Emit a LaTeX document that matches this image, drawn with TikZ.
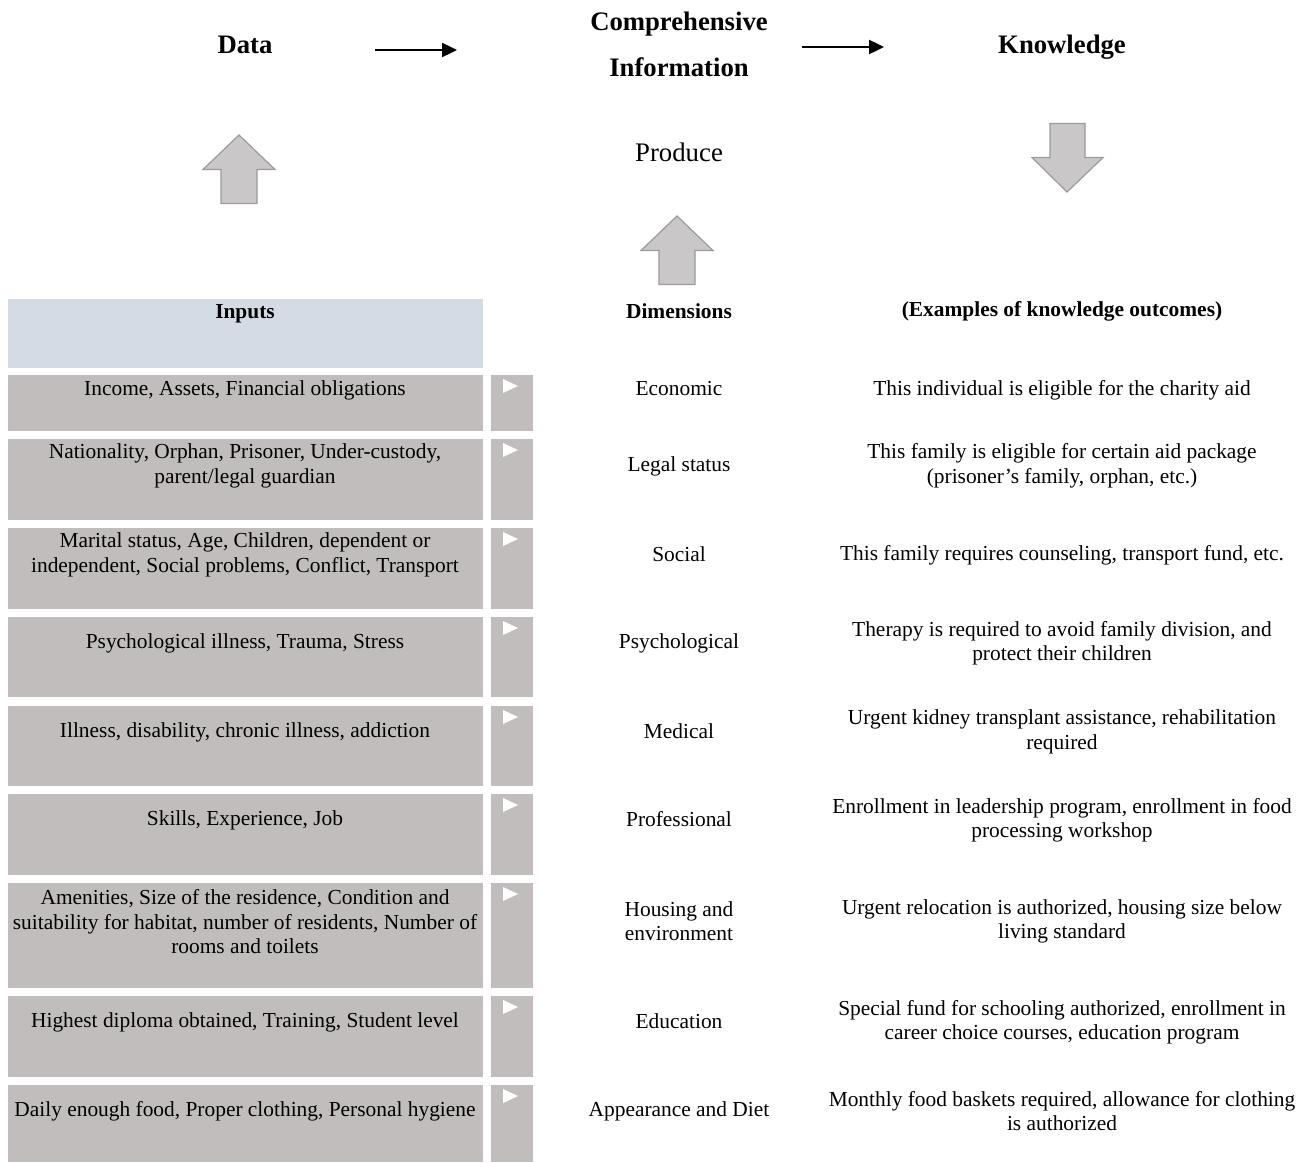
\documentclass[tikz,border=0pt]{standalone}
\usepackage{fontspec}
\setmainfont{Liberation Serif}
\usetikzlibrary{arrows.meta}
\definecolor{boxgray}{HTML}{C1BDBD}
\definecolor{headblue}{HTML}{D5DBE5}
\definecolor{arrfill}{HTML}{C9C7C7}
\definecolor{arrdraw}{HTML}{9C9A9A}
\begin{document}
\begin{tikzpicture}[x=1pt,y=-1pt,
  inbox/.style={fill=boxgray,draw=none},
  tri/.style={fill=white,draw=none},
  txt/.style={align=center,inner sep=0pt,font=\fontsize{21.4}{24.5}\selectfont},
  hdr/.style={align=center,inner sep=0pt,font=\fontsize{21.4}{24.5}\selectfont\bfseries},
  ttl/.style={align=center,inner sep=0pt,font=\fontsize{26.7}{46}\selectfont\bfseries},
  flow/.style={line width=2.4pt,-{Triangle[length=15pt,width=14pt]}},
  blockarr/.style={fill=arrfill,draw=arrdraw,line width=1.2pt,line join=miter}]
\useasboundingbox (0,0) rectangle (1311,1162);
% top titles
\node[ttl] (data) at (245,45) {Data};
\node[ttl] (info) at (679,44) {Comprehensive\\Information};
\node[ttl] (know) at (1062,47) {Knowledge};
\coordinate (a1s) at (375,50); \coordinate (a1e) at (457,50);
\coordinate (a2s) at (802,47); \coordinate (a2e) at (884,47);
\draw[flow] (a1s) -- (a1e);
\draw[flow] (a2s) -- (a2e);
\node[align=center,inner sep=0pt,font=\fontsize{26.8}{30}\selectfont] (produce) at (679,152) {Produce};
% block arrows
\draw[blockarr] (239,135) -- (275,169.5) -- (257,169.5) -- (257,203.5) -- (221,203.5) -- (221,169.5) -- (203,169.5) -- cycle;
\draw[blockarr] (677,216) -- (713,250.5) -- (695,250.5) -- (695,284.5) -- (659,284.5) -- (659,250.5) -- (641,250.5) -- cycle;
\draw[blockarr] (1067,192) -- (1103,157.5) -- (1085,157.5) -- (1085,123.5) -- (1050,123.5) -- (1050,157.5) -- (1032,157.5) -- cycle;
% header
\fill[headblue] (8,299) rectangle (483,368);
\node[hdr] (hin) at (245,314) {Inputs};
\node[hdr] (hdim) at (679,311.5) {Dimensions};
\node[hdr] (hknow) at (1062,311) {(Examples of knowledge outcomes)};
% rows: boxes
\foreach \t/\b in {375/431,439/520,528/609,617/697,706/786,794/875,883/988,996/1077,1085/1162}{
  \fill[inbox] (8,\t) rectangle (483,\b);
  \fill[inbox] (491,\t) rectangle (533,\b);
  \fill[tri] (503,\t+4) -- (518,\t+11) -- (503,\t+18) -- cycle;
}
% inputs text
\node[txt] (i1) at (245,390) {Income, Assets, Financial obligations};
\node[txt] (i2) at (245,466) {Nationality, Orphan, Prisoner, Under-custody,\\parent/legal guardian};
\node[txt] (i3) at (245,555) {Marital status, Age, Children, dependent or\\independent, Social problems, Conflict, Transport};
\node[txt] (i4) at (245,643) {Psychological illness, Trauma, Stress};
\node[txt] (i5) at (245,732) {Illness, disability, chronic illness, addiction};
\node[txt] (i6) at (245,820) {Skills, Experience, Job};
\node[txt] (i7) at (245,922) {Amenities, Size of the residence, Condition and\\suitability for habitat, number of residents, Number of\\rooms and toilets};
\node[txt] (i8) at (245,1022) {Highest diploma obtained, Training, Student level};
\node[txt] (i9) at (245,1111) {Daily enough food, Proper clothing, Personal hygiene};
% dimensions
\node[txt] (d1) at (679,389) {Economic};
\node[txt] (d2) at (679,466) {Legal status};
\node[txt] (d3) at (679,554) {Social};
\node[txt] (d4) at (679,643) {Psychological};
\node[txt] (d5) at (679,731) {Medical};
\node[txt] (d6) at (679,819) {Professional};
\node[txt] (d7) at (679,921) {Housing and\\environment};
\node[txt] (d8) at (679,1021) {Education};
\node[txt] (d9) at (679,1111) {Appearance and Diet};
% knowledge
\node[txt] (k1) at (1062,390) {This individual is eligible for the charity aid};
\node[txt] (k2) at (1062,466) {This family is eligible for certain aid package\\(prisoner’s family, orphan, etc.)};
\node[txt] (k3) at (1062,555) {This family requires counseling, transport fund, etc.};
\node[txt] (k4) at (1062,643) {Therapy is required to avoid family division, and\\protect their children};
\node[txt] (k5) at (1062,732) {Urgent kidney transplant assistance, rehabilitation\\required};
\node[txt] (k6) at (1062,820.5) {Enrollment in leadership program, enrollment in food\\processing workshop};
\node[txt] (k7) at (1062,921.5) {Urgent relocation is authorized, housing size below\\living standard};
\node[txt] (k8) at (1062,1022.5) {Special fund for schooling authorized, enrollment in\\career choice courses, education program};
\node[txt] (k9) at (1062,1111) {Monthly food baskets required, allowance for clothing\\is authorized};
\end{tikzpicture}
\end{document}
